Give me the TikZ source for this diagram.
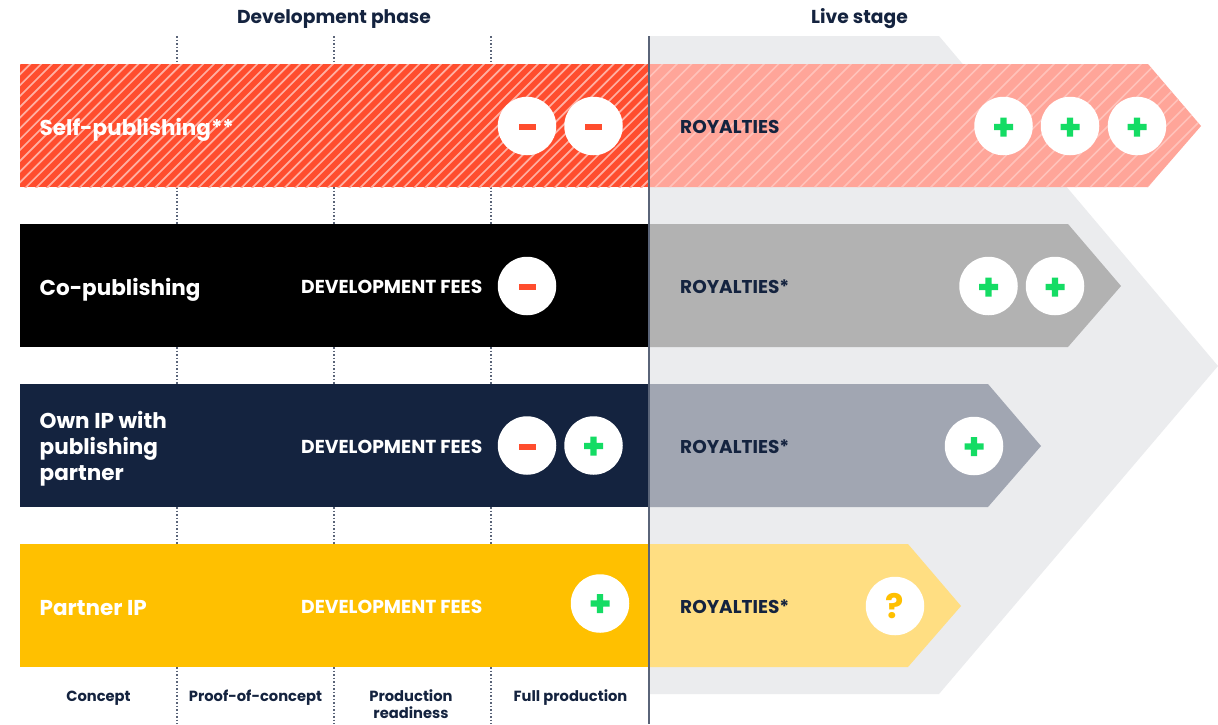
\documentclass[tikz,border=0pt]{standalone}
\usepackage{fontspec}
\setmainfont{Poppins}
\definecolor{navy}{HTML}{14233F}
\definecolor{redc}{HTML}{FF4D2E}
\definecolor{redl}{HTML}{FFA599}
\definecolor{stripeA}{HTML}{FFB0A2}
\definecolor{stripeB}{HTML}{FFC2BA}
\definecolor{grayc}{HTML}{B2B2B2}
\definecolor{slatec}{HTML}{A1A6B2}
\definecolor{yellowc}{HTML}{FFC000}
\definecolor{yellowl}{HTML}{FFDE82}
\definecolor{bgc}{HTML}{EBECEE}
\definecolor{greenc}{HTML}{14DC64}
\definecolor{axisc}{HTML}{5A6478}
\tikzset{
  x=1pt,y=-1pt,
  head/.style={text=navy,font=\fontsize{18.7}{20}\selectfont\bfseries,inner sep=0pt},
  rowname/.style={text=white,anchor=west,align=left,font=\fontsize{21.5}{26}\selectfont\bfseries,inner sep=0pt},
  fees/.style={text=white,anchor=west,font=\fontsize{18.7}{20}\selectfont\bfseries,inner sep=0pt},
  roy/.style={text=navy,anchor=west,font=\fontsize{18.5}{20}\selectfont\bfseries,inner sep=0pt},
  stage/.style={text=navy,align=center,font=\fontsize{14.7}{17}\selectfont\bfseries,inner sep=0pt},
  badge/.style={circle,fill=white,minimum size=58.5pt,inner sep=0pt},
  guide/.style={axisc,line width=1.1pt,dash pattern=on 1.5pt off 2pt},
  stripes/.style={line width=1.7pt},
}
\newcommand{\minusmark}[2]{\fill[redc] (#1-8.5,#2-2.8) rectangle (#1+8.5,#2+2.8);}
\newcommand{\plusmark}[2]{\fill[greenc] (#1-9.5,#2-3.2) rectangle (#1+9.5,#2+3.2) (#1-3.2,#2-9.5) rectangle (#1+3.2,#2+9.5);}
\begin{document}
\begin{tikzpicture}
\useasboundingbox (0,0) rectangle (1218,724);
\fill[white] (0,0) rectangle (1218,724);
% live-stage backdrop
\fill[bgc] (649,36) -- (939,36) -- (1218,366) -- (939,694) -- (649,694) -- cycle;
% dotted phase guides
\foreach \gx in {177,334,491}{
  \foreach \ya/\yb in {36/64,187/224,347/384,507/544,667/724}{
    \draw[guide] (\gx,\ya) -- (\gx,\yb);
  }
}
% row 1
\fill[redc] (20,64) rectangle (649,187);
\begin{scope}
  \clip (20,64) rectangle (649,187);
  \foreach \k in {-130,-119.2,...,660}{
    \draw[stripes,stripeA] (\k,192) -- (\k+133,59);
  }
\end{scope}
\fill[redl] (649,64) -- (1148,64) -- (1201,126) -- (1148,187) -- (649,187) -- cycle;
\begin{scope}
  \clip (649,64) -- (1148,64) -- (1201,126) -- (1148,187) -- (649,187) -- cycle;
  \foreach \k in {520,534.5,...,1220}{
    \draw[stripes,stripeB] (\k,192) -- (\k+133,59);
  }
\end{scope}
% rows 2-4
\fill[black] (20,224) rectangle (649,347);
\fill[grayc] (649,224) -- (1068,224) -- (1121,286) -- (1068,347) -- (649,347) -- cycle;
\fill[navy] (20,384) rectangle (649,507);
\fill[slatec] (649,384) -- (988,384) -- (1041,446) -- (988,507) -- (649,507) -- cycle;
\fill[yellowc] (20,544) rectangle (649,667);
\fill[yellowl] (649,544) -- (908,544) -- (961,606) -- (908,667) -- (649,667) -- cycle;
% axis
\draw[axisc,line width=1.6pt] (649,36) -- (649,724);
% headings
\node[head] (devphase) at (334,19) {Development phase};
\node[head] (livestage) at (859.5,19) {Live stage};
% row labels
\node[rowname] (selfpub) at (39.5,130) {Self-publishing**};
\node[rowname] (copub) at (39.5,290) {Co-publishing};
\node[rowname] (ownip) at (39.5,448.5) {Own IP with\\publishing\\partner};
\node[rowname] (partner) at (39.5,608.5) {Partner IP};
\node[fees] (fees2) at (301,287) {DEVELOPMENT FEES};
\node[fees] (fees3) at (301,447) {DEVELOPMENT FEES};
\node[fees] (fees4) at (301,607) {DEVELOPMENT FEES};
\node[roy] (roy1) at (680,127) {ROYALTIES};
\node[roy] (roy2) at (680,287) {ROYALTIES*};
\node[roy] (roy3) at (680,447) {ROYALTIES*};
\node[roy] (roy4) at (680,607) {ROYALTIES*};
% badges
\foreach \bx/\by/\nm in {527/126/a,593.5/126/b,1003.5/126/c,1070/126/d,1137/126/e,527/286/f,988.5/286/g,1055/286/h,527/445.5/i,593.5/445.5/j,974/446/k,600/603.5/l,895/606/m}{
  \node[badge] (badge\nm) at (\bx,\by) {};
}
\minusmark{527}{127}
\minusmark{593.5}{127}
\plusmark{1003.5}{127}
\plusmark{1070}{127}
\plusmark{1137}{127}
\minusmark{527}{287}
\plusmark{988.5}{287}
\plusmark{1055}{287}
\minusmark{527}{447}
\plusmark{593.5}{446}
\plusmark{974}{446.5}
\plusmark{600}{603.5}
\node[text=yellowc,font=\fontsize{34}{34}\selectfont\bfseries,inner sep=0pt] (qmark) at (895,606) {?};
% stage labels
\node[stage] (s1) at (98.5,698) {Concept};
\node[stage] (s2) at (255.5,698) {Proof-of-concept};
\node[stage,anchor=north] (s3) at (411,690) {Production\\readiness};
\node[stage] (s4) at (570.5,698) {Full production};
\end{tikzpicture}
\end{document}
